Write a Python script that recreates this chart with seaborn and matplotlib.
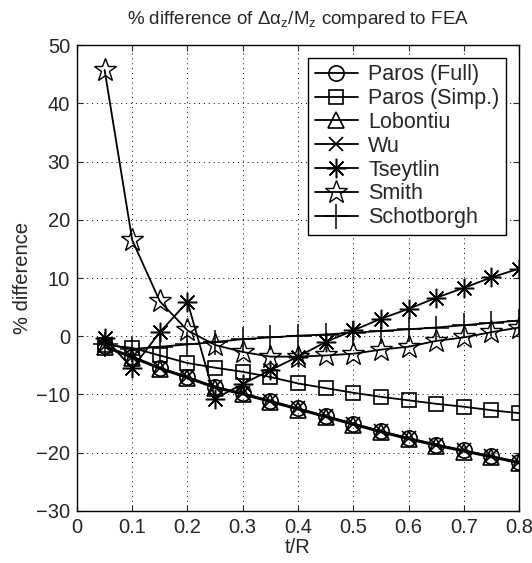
import numpy as np
import pandas as pd
import matplotlib
matplotlib.use("Agg")
import matplotlib.pyplot as plt
import seaborn as sns

t_over_R = [0.05, 0.10, 0.15, 0.20, 0.25, 0.30, 0.35, 0.40,
            0.45, 0.50, 0.55, 0.60, 0.65, 0.70, 0.75, 0.80]

paros_full = [-1.7, -3.5, -5.4, -7.0, -8.7, -9.8, -11.1, -12.4,
              -13.7, -15.0, -16.3, -17.5, -18.6, -19.6, -20.6, -21.6]
paros_simp = [-1.5, -2.0, -3.3, -4.6, -5.4, -6.1, -7.0, -8.1,
              -8.9, -9.7, -10.4, -11.0, -11.6, -12.1, -12.7, -13.2]
lobontiu = [-1.9, -3.7, -5.6, -7.2, -8.9, -10.0, -11.3, -12.6,
            -13.9, -15.2, -16.5, -17.7, -18.8, -19.8, -20.8, -21.8]
wu = [-1.7, -3.5, -5.4, -7.0, -8.7, -9.8, -11.1, -12.4,
      -13.7, -15.0, -16.3, -17.5, -18.6, -19.6, -20.6, -21.6]
tseytlin = [-0.3, -5.5, 0.7, 5.9, -10.7, -8.2, -5.8, -3.5,
            -1.0, 1.0, 3.0, 4.7, 6.6, 8.3, 10.1, 11.6]
smith = [45.7, 16.5, 6.0, 1.0, -1.5, -2.7, -3.5, -3.5,
         -3.3, -3.0, -2.3, -1.8, -0.8, -0.2, 0.7, 1.5]
schotborgh = [-1.3, -2.2, -1.8, -1.4, -1.0, -0.5, -0.2, 0.1,
              0.3, 0.6, 0.9, 1.2, 1.5, 1.9, 2.3, 2.7]

series_names = ["Paros (Full)", "Paros (Simp.)", "Lobontiu", "Wu",
                "Tseytlin", "Smith", "Schotborgh"]
series_values = [paros_full, paros_simp, lobontiu, wu, tseytlin, smith, schotborgh]

x_ticks = [0, 0.1, 0.2, 0.3, 0.4, 0.5, 0.6, 0.7, 0.8]
x_tick_labels = ["0", "0.1", "0.2", "0.3", "0.4", "0.5", "0.6", "0.7", "0.8"]
y_ticks = [-30, -20, -10, 0, 10, 20, 30, 40, 50]

sns.set_style("white")
plt.rcParams["font.family"] = ["Liberation Sans", "DejaVu Sans"]
plt.rcParams["mathtext.default"] = "regular"
FS = 14.5

markers = {"Paros (Full)": ("o", 11, 1.2),
           "Paros (Simp.)": ("s", 10.5, 1.2),
           "Lobontiu": ("^", 12, 1.2),
           "Wu": ("x", 9.5, 1.2),
           "Tseytlin": ((8, 2, 0), 14, 1.1),
           "Smith": ("*", 17, 1.0),
           "Schotborgh": ("+", 18, 1.1)}

fig = plt.figure(figsize=(5.32, 5.63), dpi=100)
ax = fig.add_axes([0.1447, 0.0924, 0.9756 - 0.1447, 0.920 - 0.0924])

for name, vals in zip(series_names, series_values):
    df = pd.DataFrame({"t/R": t_over_R, "diff": vals})
    m, ms, mew = markers[name]
    sns.lineplot(data=df, x="t/R", y="diff", ax=ax, color="black",
                 linewidth=1.3, marker=m, markersize=ms,
                 markerfacecolor="none", markeredgecolor="black",
                 markeredgewidth=mew, label=name)

ax.set_xlim(0, 0.8)
ax.set_ylim(-30, 50)
ax.set_xticks(x_ticks)
ax.set_xticklabels(x_tick_labels)
ax.set_yticks(y_ticks)
ax.grid(True, linestyle=(0, (1, 4)), color="black", linewidth=0.7)
ax.tick_params(direction="in", length=4, width=0.8, labelsize=FS,
               top=True, right=True, bottom=True, left=True, pad=5)
for sp in ax.spines.values():
    sp.set_color("black")
    sp.set_linewidth(1.0)

ax.set_xlabel("t/R", fontsize=FS, labelpad=1)
ax.set_ylabel("% difference", fontsize=FS, labelpad=3)
ax.set_title(r"% difference of $\Delta\alpha_z$/M$_z$ compared to FEA",
             fontsize=13.5, pad=15)

leg = ax.legend(loc="upper right", fontsize=15.5, frameon=True, fancybox=False,
                edgecolor="black", framealpha=1, handlelength=2.0,
                borderpad=0.3, labelspacing=0.13, handletextpad=0.5,
                borderaxespad=0.6)
leg.get_frame().set_linewidth(1.0)

fig.savefig("out.png", dpi=100)
